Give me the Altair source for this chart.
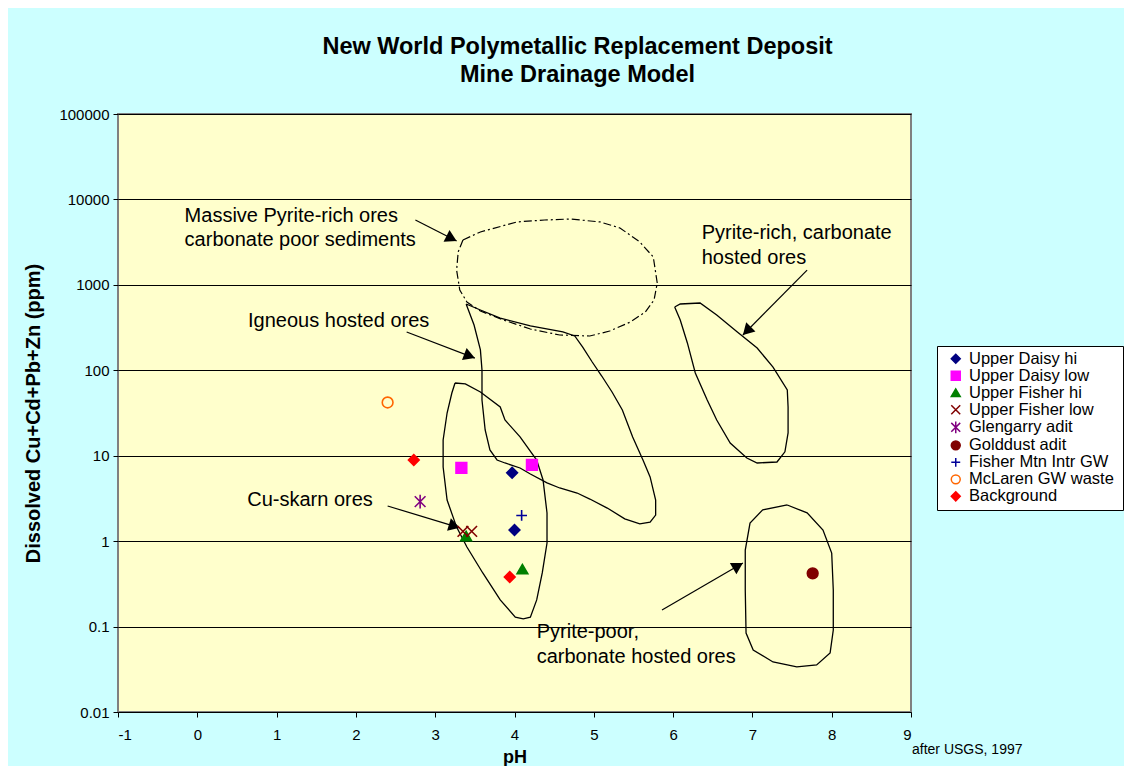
import math
import altair as alt
import pandas as pd

# ---------------- data ----------------
series_names = ["Upper Daisy hi", "Upper Daisy low", "Upper Fisher hi", "Upper Fisher low",
                "Glengarry adit", "Golddust adit", "Fisher Mtn Intr GW", "McLaren  GW waste",
                "Background"]
series_fill = ["#000080", "#FF00FF", "#008000", "transparent", "transparent", "#800000",
               "transparent", "transparent", "#FF0000"]
series_stroke = ["#000080", "#FF00FF", "#008000", "#800000", "#800080", "#800000",
                 "#000099", "#FF6600", "#FF0000"]
series_shape = ["diamond", "square", "triangle-up",
                "M-1,-1L1,1M1,-1L-1,1",
                "M-1,-1L1,1M1,-1L-1,1M0,-1.3L0,1.3",
                "circle",
                "M-1,0L1,0M0,-1L0,1",
                "circle", "diamond"]

point_series = ["Upper Daisy hi", "Upper Daisy hi", "Upper Daisy low", "Upper Daisy low",
                "Upper Fisher hi", "Upper Fisher hi", "Upper Fisher low", "Upper Fisher low",
                "Glengarry adit", "Golddust adit", "Fisher Mtn Intr GW", "McLaren  GW waste",
                "Background", "Background"]
point_ph = [3.97, 4.00, 3.33, 4.22, 3.39, 4.10, 3.35, 3.46, 2.81, 7.76, 4.09, 2.40, 2.73, 3.94]
point_ppm = [6.3, 1.35, 7.2, 7.8, 1.15, 0.47, 1.3, 1.3, 2.9, 0.42, 2.0, 42, 8.9, 0.38]

# field outlines (pH, ppm)
massive_ph = [3.35, 3.57, 4.03, 4.38, 4.70, 5.08, 5.33, 5.58, 5.75, 5.80, 5.76, 5.65, 5.46,
              5.20, 4.95, 4.57, 4.20, 3.86, 3.57, 3.40, 3.31, 3.27, 3.29, 3.35]
massive_ppm = [3350, 4160, 5450, 5740, 5900, 5450, 4630, 3180, 2120, 1050, 665, 481, 367,
               288, 252, 259, 304, 388, 494, 630, 870, 1490, 2430, 3350]

igneous_ph = [3.39, 3.57, 3.82, 4.20, 4.61, 4.76, 4.86, 4.98, 5.10, 5.23, 5.36, 5.49, 5.62,
              5.71, 5.78, 5.78, 5.71, 5.58, 5.39, 5.17, 4.95, 4.79, 4.57, 4.41, 4.20, 4.07,
              3.88, 3.78, 3.69, 3.63, 3.59, 3.59, 3.57, 3.49, 3.39]
igneous_ppm = [597, 508, 409, 330, 281, 252, 187, 125, 85.7, 55.7, 34.3, 16.6, 8.91,
               5.64, 3.03, 2.02, 1.67, 1.59, 1.82, 2.44, 3.11, 3.66, 4.19, 4.80, 6.11, 7.18,
               8.22, 8.91, 11.7, 20.0, 44.9, 101, 173, 339, 597]

skarn_ph = [3.25, 3.38, 3.57, 3.82, 3.88, 4.07, 4.28, 4.36, 4.41, 4.41, 4.35, 4.28, 4.20,
            4.11, 4.01, 3.82, 3.60, 3.40, 3.27, 3.15, 3.10, 3.10, 3.15, 3.21, 3.25]
skarn_ppm = [71.0, 69.2, 55.7, 37.2, 26.2, 16.6, 8.91, 5.20, 2.14, 0.951, 0.424, 0.205, 0.129,
             0.123, 0.129, 0.205, 0.424, 0.853, 1.46, 3.03, 7.38, 15.3, 31.6, 54.2, 71.0]

pyrich_ph = [6.02, 6.09, 6.34, 6.55, 6.81, 7.06, 7.26, 7.44, 7.45, 7.45, 7.41, 7.31, 7.06,
             6.93, 6.72, 6.55, 6.43, 6.28, 6.18, 6.09, 6.02]
pyrich_ppm = [551, 597, 613, 444, 281, 182, 109, 58.8, 37.2, 18.5, 11.1, 8.44, 8.22,
              9.40, 14.1, 26.2, 44.9, 92.9, 209, 388, 551]

pypoor_ph = [7.44, 7.13, 6.97, 6.91, 6.91, 6.92, 7.01, 7.26, 7.56, 7.81, 7.98, 8.02, 8.02,
             8.00, 7.89, 7.69, 7.44]
pypoor_ppm = [2.65, 2.32, 1.63, 0.787, 0.268, 0.0841, 0.0532, 0.0385, 0.0337, 0.0355, 0.0491,
              0.0912, 0.268, 0.726, 1.35, 2.14, 2.65]

# annotations
label_text = ["Massive Pyrite-rich ores", "carbonate poor sediments",
              "Pyrite-rich, carbonate", "hosted ores",
              "Igneous hosted ores", "Cu-skarn ores",
              "Pyrite-poor,", "carbonate hosted ores"]
label_ph = [-0.16, -0.16, 6.36, 6.36, 0.64, 0.63, 4.28, 4.28]
label_ppm = [6400, 3350, 4050, 2060, 378, 3.03, 0.0865, 0.0441]

arrow_from_ph = [2.75, 7.69, 2.64, 2.40, 5.86]
arrow_from_ppm = [5740, 1490, 281, 2.58, 0.156]
arrow_to_ph = [3.27, 6.88, 3.50, 3.31, 6.88]
arrow_to_ppm = [3260, 259, 139, 1.43, 0.555]

source_note = "after USGS, 1997"

# ---------------- layout helpers ----------------
W, H = 793, 598
X_DOM = [-1, 9]
Y_DOM = [0.01, 100000]


def to_px(ph, ppm):
    x = (ph - X_DOM[0]) / (X_DOM[1] - X_DOM[0]) * W
    y = (math.log10(Y_DOM[1]) - math.log10(ppm)) / (math.log10(Y_DOM[1]) - math.log10(Y_DOM[0])) * H
    return x, y


def from_px(x, y):
    ph = x / W * (X_DOM[1] - X_DOM[0]) + X_DOM[0]
    lg = math.log10(Y_DOM[1]) - y / H * (math.log10(Y_DOM[1]) - math.log10(Y_DOM[0]))
    return ph, 10 ** lg


# ---------------- tables ----------------
pts = pd.DataFrame({"series": point_series, "ph": point_ph, "ppm": point_ppm})

poly_rows = []
for name, xs, ys in [("igneous", igneous_ph, igneous_ppm), ("skarn", skarn_ph, skarn_ppm),
                     ("pyrich", pyrich_ph, pyrich_ppm), ("pypoor", pypoor_ph, pypoor_ppm)]:
    for i, (a, b) in enumerate(zip(xs, ys)):
        poly_rows.append({"shape": name, "idx": i, "ph": a, "ppm": b})
polys = pd.DataFrame(poly_rows)
massive = pd.DataFrame({"shape": "massive", "idx": list(range(len(massive_ph))),
                        "ph": massive_ph, "ppm": massive_ppm})

shaft_rows = []
head_rows = []
HEAD_SIZE = 170
h = math.sqrt(3) / 2 * math.sqrt(HEAD_SIZE) / 2
for k in range(len(arrow_from_ph)):
    shaft_rows.append({"arrow": k, "idx": 0, "ph": arrow_from_ph[k], "ppm": arrow_from_ppm[k]})
    shaft_rows.append({"arrow": k, "idx": 1, "ph": arrow_to_ph[k], "ppm": arrow_to_ppm[k]})
    x0, y0 = to_px(arrow_from_ph[k], arrow_from_ppm[k])
    x1, y1 = to_px(arrow_to_ph[k], arrow_to_ppm[k])
    dx, dy = x1 - x0, y1 - y0
    L = math.hypot(dx, dy)
    ux, uy = dx / L, dy / L
    cx, cy = x1 - ux * h, y1 - uy * h
    cph, cppm = from_px(cx, cy)
    ang = math.degrees(math.atan2(ux, -uy)) % 360
    head_rows.append({"ph": cph, "ppm": cppm, "angle": ang})
shafts = pd.DataFrame(shaft_rows)
heads = pd.DataFrame(head_rows)

labels = pd.DataFrame({"text": label_text, "ph": label_ph, "ppm": label_ppm})

# ---------------- encodings ----------------
FONT = "Liberation Sans"
xscale = alt.Scale(domain=X_DOM, nice=False, zero=False)
yscale = alt.Scale(type="log", domain=Y_DOM, nice=False)

xaxis = alt.Axis(values=list(range(-1, 10)), labelExpr="toString(datum.value)",
                 grid=False, domain=False,
                 tickColor="black", tickSize=5, labelFontSize=15, labelPadding=10,
                 labelColor="black", title="pH", titleFontSize=18, titleFontWeight="bold",
                 titleColor="black", titlePadding=6, labelFont=FONT, titleFont=FONT)
yaxis = alt.Axis(values=[0.01, 0.1, 1, 10, 100, 1000, 10000, 100000], format="~g",
                 grid=True, gridColor="black", gridWidth=1, gridOpacity=1, domain=False,
                 tickColor="black", tickSize=5, labelFontSize=15, labelPadding=4,
                 labelColor="black", title="Dissolved Cu+Cd+Pb+Zn (ppm)", titleFontSize=20,
                 titleFontWeight="bold", titleColor="black", titlePadding=15,
                 labelFont=FONT, titleFont=FONT)

X = alt.X("ph:Q", scale=xscale, axis=xaxis)
Y = alt.Y("ppm:Q", scale=yscale, axis=yaxis)

poly_layer = alt.Chart(polys).mark_line(color="black", strokeWidth=1.3).encode(
    x=X, y=Y, detail="shape:N", order="idx:Q")

massive_layer = alt.Chart(massive).mark_line(
    color="black", strokeWidth=1.2, strokeDash=[8, 3, 2, 3]).encode(
    x=X, y=Y, detail="shape:N", order="idx:Q")

shaft_layer = alt.Chart(shafts).mark_line(color="black", strokeWidth=1.2).encode(
    x=X, y=Y, detail="arrow:N", order="idx:Q")

head_layer = alt.Chart(heads).mark_point(
    shape="triangle-up", filled=True, color="black", opacity=1, size=HEAD_SIZE).encode(
    x=X, y=Y, angle=alt.Angle("angle:Q", scale=None))

text_layer = alt.Chart(labels).mark_text(
    align="left", baseline="middle", fontSize=20, font=FONT, color="black").encode(
    x=X, y=Y, text="text:N")

legend = alt.Legend(title=None, orient="none", legendX=819, legendY=232,
                    fillColor="white", strokeColor="black", padding=4.5,
                    labelFontSize=16.5, labelFont=FONT, labelColor="black", labelLimit=400,
                    symbolSize=80, symbolStrokeWidth=1.5, rowPadding=-0.4,
                    symbolOffset=6, labelOffset=5)

point_layer = alt.Chart(pts).mark_point(opacity=1, strokeWidth=1.6, size=115).encode(
    x=X, y=Y,
    shape=alt.Shape("series:N", scale=alt.Scale(domain=series_names, range=series_shape),
                    legend=legend, sort=series_names),
    fill=alt.Fill("series:N", scale=alt.Scale(domain=series_names, range=series_fill),
                  legend=legend, sort=series_names),
    stroke=alt.Stroke("series:N", scale=alt.Scale(domain=series_names, range=series_stroke),
                      legend=legend, sort=series_names),
)

note_layer = alt.Chart(pd.DataFrame({"t": [source_note]})).mark_text(
    align="left", baseline="middle", fontSize=14, font=FONT, color="black").encode(
    x=alt.value(W + 1), y=alt.value(H + 38), text="t:N")

chart = alt.layer(
    poly_layer, massive_layer, shaft_layer, head_layer, text_layer, point_layer, note_layer
).properties(
    width=W, height=H,
    background="#CCFFFF",
    padding={"left": 110, "top": 106, "right": 213, "bottom": 54},
    autosize=alt.AutoSizeParams(type="none"),
    title=alt.TitleParams(
        text=["New World Polymetallic Replacement Deposit", "Mine Drainage Model"],
        fontSize=23.5, fontWeight="bold", font=FONT, color="black", anchor="middle",
        dx=63, offset=21, lineHeight=28),
).configure_view(fill="#FFFFCC", stroke="#808080", strokeWidth=2)

chart.save("out.html", embed_options={"renderer": "svg", "actions": False})
